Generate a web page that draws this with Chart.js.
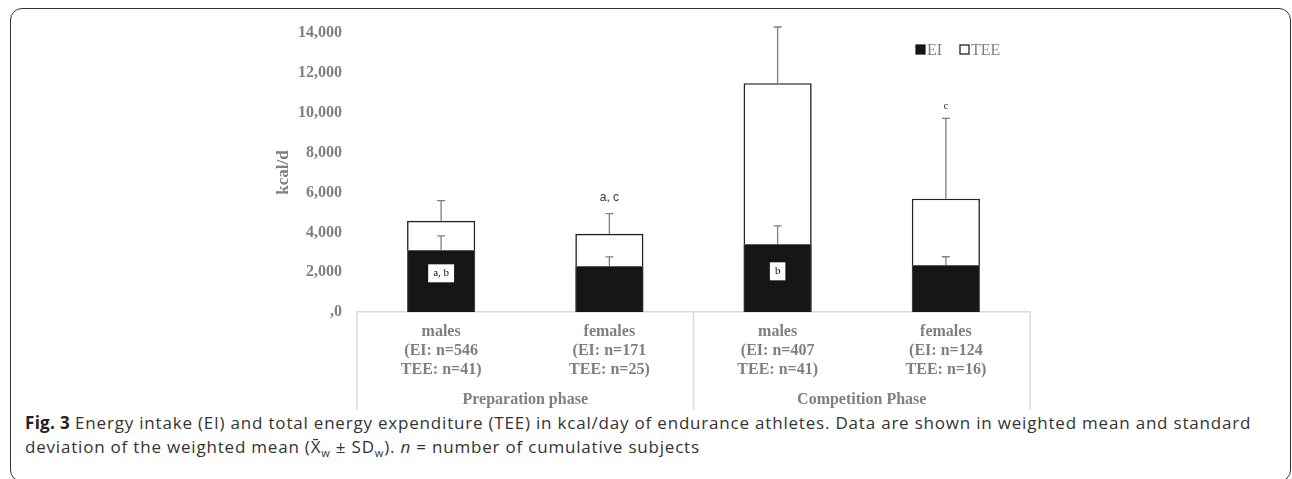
<!DOCTYPE html>
<html lang="en">
<head>
<meta charset="UTF-8">
<title>Fig. 3 - Energy intake and total energy expenditure</title>
<script src="https://cdn.jsdelivr.net/npm/chart.js"></script>
<style>
  body { margin: 0; background: #fff; width: 1292px; height: 479px; overflow: hidden; position: relative; }
  #frame {
    position: absolute; left: 10px; top: 8px; width: 1281px; height: 474px;
    border: 1.5px solid #333; border-radius: 12px; box-sizing: border-box;
  }
  #wrap { position: absolute; left: 0; top: 0; width: 1292px; height: 411px; }
  #caption {
    position: absolute; left: 25px; top: 411px;
    font-family: "Open Sans", "Noto Sans", sans-serif; font-size: 17px; line-height: 24px;
    letter-spacing: 0.8px; color: #333; white-space: nowrap;
  }
  #caption b { color: #222; letter-spacing: 0.3px; }
  sub { font-size: 11px; line-height: 0; }
</style>
</head>
<body>
<div id="frame"></div>
<div id="wrap"><canvas id="chart" width="1292" height="411"></canvas></div>
<div id="caption">
  <b>Fig. 3</b> Energy intake (EI) and total energy expenditure (TEE) in kcal/day of endurance athletes. Data are shown in weighted mean and standard<br>
  deviation of the weighted mean (X&#772;<sub>w</sub> ± SD<sub>w</sub>). <i>n</i> = number of cumulative subjects
</div>
<script>
// values (kcal/d)
const groups = ['Preparation phase', 'Competition Phase'];
const categories = [
  ['males', '(EI: n=546', 'TEE: n=41)'],
  ['females', '(EI: n=171', 'TEE: n=25)'],
  ['males', '(EI: n=407', 'TEE: n=41)'],
  ['females', '(EI: n=124', 'TEE: n=16)']
];
const eiMean = [3120, 2320, 3420, 2370];
const eiSd = [710, 450, 910, 410];
const teeMean = [4580, 3930, 11480, 5690];
const teeSd = [1010, 1010, 2820, 4030];
const yTicks = [0, 2000, 4000, 6000, 8000, 10000, 12000, 14000];

// significance letters
const noteText = ['a, b', 'a, c', 'b', 'c'];
const noteCat = [0, 1, 2, 3];
const noteY = [1950, 5750, 2050, 10330];
const noteBoxed = [true, false, true, false];

const serif = '"Liberation Serif", "Times New Roman", serif';
const grey = '#7f7f7f';

const errorBars = {
  id: 'errorBars',
  afterDatasetsDraw(chart) {
    const ctx = chart.ctx, x = chart.scales.x, y = chart.scales.y;
    ctx.save();
    ctx.strokeStyle = grey;
    ctx.lineWidth = 1.3;
    [[eiMean, eiSd], [teeMean, teeSd]].forEach(([m, s]) => {
      m.forEach((v, i) => {
        const px = x.getPixelForValue(i);
        const y0 = y.getPixelForValue(v), y1 = y.getPixelForValue(v + s[i]);
        ctx.beginPath();
        ctx.moveTo(px, y0); ctx.lineTo(px, y1);
        ctx.moveTo(px - 4, y1); ctx.lineTo(px + 4, y1);
        ctx.stroke();
      });
    });
    ctx.restore();
  }
};

const notes = {
  id: 'notes',
  afterDatasetsDraw(chart) {
    const ctx = chart.ctx, x = chart.scales.x, y = chart.scales.y;
    ctx.save();
    ctx.textAlign = 'center';
    ctx.textBaseline = 'middle';
    noteText.forEach((t, k) => {
      const px = x.getPixelForValue(noteCat[k]), py = y.getPixelForValue(noteY[k]);
      if (noteBoxed[k]) {
        ctx.font = '11px ' + serif;
        const w = ctx.measureText(t).width + 10;
        ctx.fillStyle = '#fff';
        ctx.fillRect(px - w / 2, py - 9, w, 18);
        ctx.fillStyle = '#111';
      } else {
        ctx.font = k === 1 ? '12px "Liberation Sans", Arial, sans-serif' : '11px ' + serif;
        ctx.fillStyle = '#333';
      }
      ctx.fillText(t, px, py);
    });
    ctx.restore();
  }
};

// light grey table lines under the category axis
const tableLines = {
  id: 'tableLines',
  afterDraw(chart) {
    const ctx = chart.ctx, x = chart.scales.x, x2 = chart.scales.x2;
    ctx.save();
    ctx.strokeStyle = '#d9d9d9';
    ctx.lineWidth = 1.5;
    [x.left, x.getPixelForDecimal(0.5), x.right].forEach(px => {
      ctx.beginPath();
      ctx.moveTo(px, x.top);
      ctx.lineTo(px, x2.top + 20);
      ctx.stroke();
    });
    ctx.restore();
  }
};

const legendBox = {
  id: 'legendBox',
  afterDraw(chart) {
    const ctx = chart.ctx, a = chart.chartArea;
    let px = a.right - 114;
    const py = a.top + 16.5;
    ctx.save();
    ctx.font = '16px ' + serif;
    ctx.textBaseline = 'middle';
    chart.data.datasets.forEach(ds => {
      ctx.fillStyle = ds.backgroundColor;
      ctx.fillRect(px, py - 4.5, 9, 9);
      ctx.strokeStyle = '#111';
      ctx.lineWidth = 1.2;
      ctx.strokeRect(px, py - 4.5, 9, 9);
      ctx.fillStyle = grey;
      ctx.fillText(ds.label, px + 11, py + 1);
      px += 44;
    });
    ctx.restore();
  }
};

const tickFont = { family: serif, size: 16, weight: 'bold', lineHeight: 1.2 };

new Chart(document.getElementById('chart'), {
  type: 'bar',
  data: {
    labels: categories,
    datasets: [
      { label: 'EI', data: eiMean, backgroundColor: '#161616', borderColor: '#595959', borderWidth: 1, order: 0, grouped: false },
      { label: 'TEE', data: teeMean, backgroundColor: '#ffffff', borderColor: '#222', borderWidth: 1.6, order: 1, grouped: false }
    ]
  },
  options: {
    responsive: false,
    animation: false,
    barPercentage: 0.405,
    categoryPercentage: 1,
    layout: { padding: { left: 273, right: 262, top: 33, bottom: 2 } },
    plugins: { legend: { display: false }, tooltip: { enabled: false } },
    scales: {
      y: {
        min: 0, max: 14000,
        afterBuildTicks: s => { s.ticks = yTicks.map(v => ({ value: v })); },
        afterFit: s => { s.width = 84; },
        grid: { display: false, drawTicks: false },
        border: { display: false },
        ticks: {
          color: grey, font: tickFont, padding: 15,
          callback: v => v === 0 ? ',0' : v.toLocaleString('en-US')
        },
        title: { display: true, text: 'kcal/d', color: grey, padding: 0,
                 font: { family: serif, size: 17, weight: 'bold' } }
      },
      x: {
        grid: { display: false, drawTicks: false },
        border: { display: true, color: '#d9d9d9', width: 1.5 },
        ticks: { color: grey, font: tickFont, padding: 10, maxRotation: 0, autoSkip: false }
      },
      x2: {
        type: 'category', labels: groups, position: 'bottom', offset: true, weight: 1,
        grid: { display: false, drawTicks: false },
        border: { display: false },
        ticks: { color: grey, font: tickFont, padding: 0, maxRotation: 0 }
      }
    }
  },
  plugins: [tableLines, errorBars, notes, legendBox]
});
</script>
</body>
</html>
